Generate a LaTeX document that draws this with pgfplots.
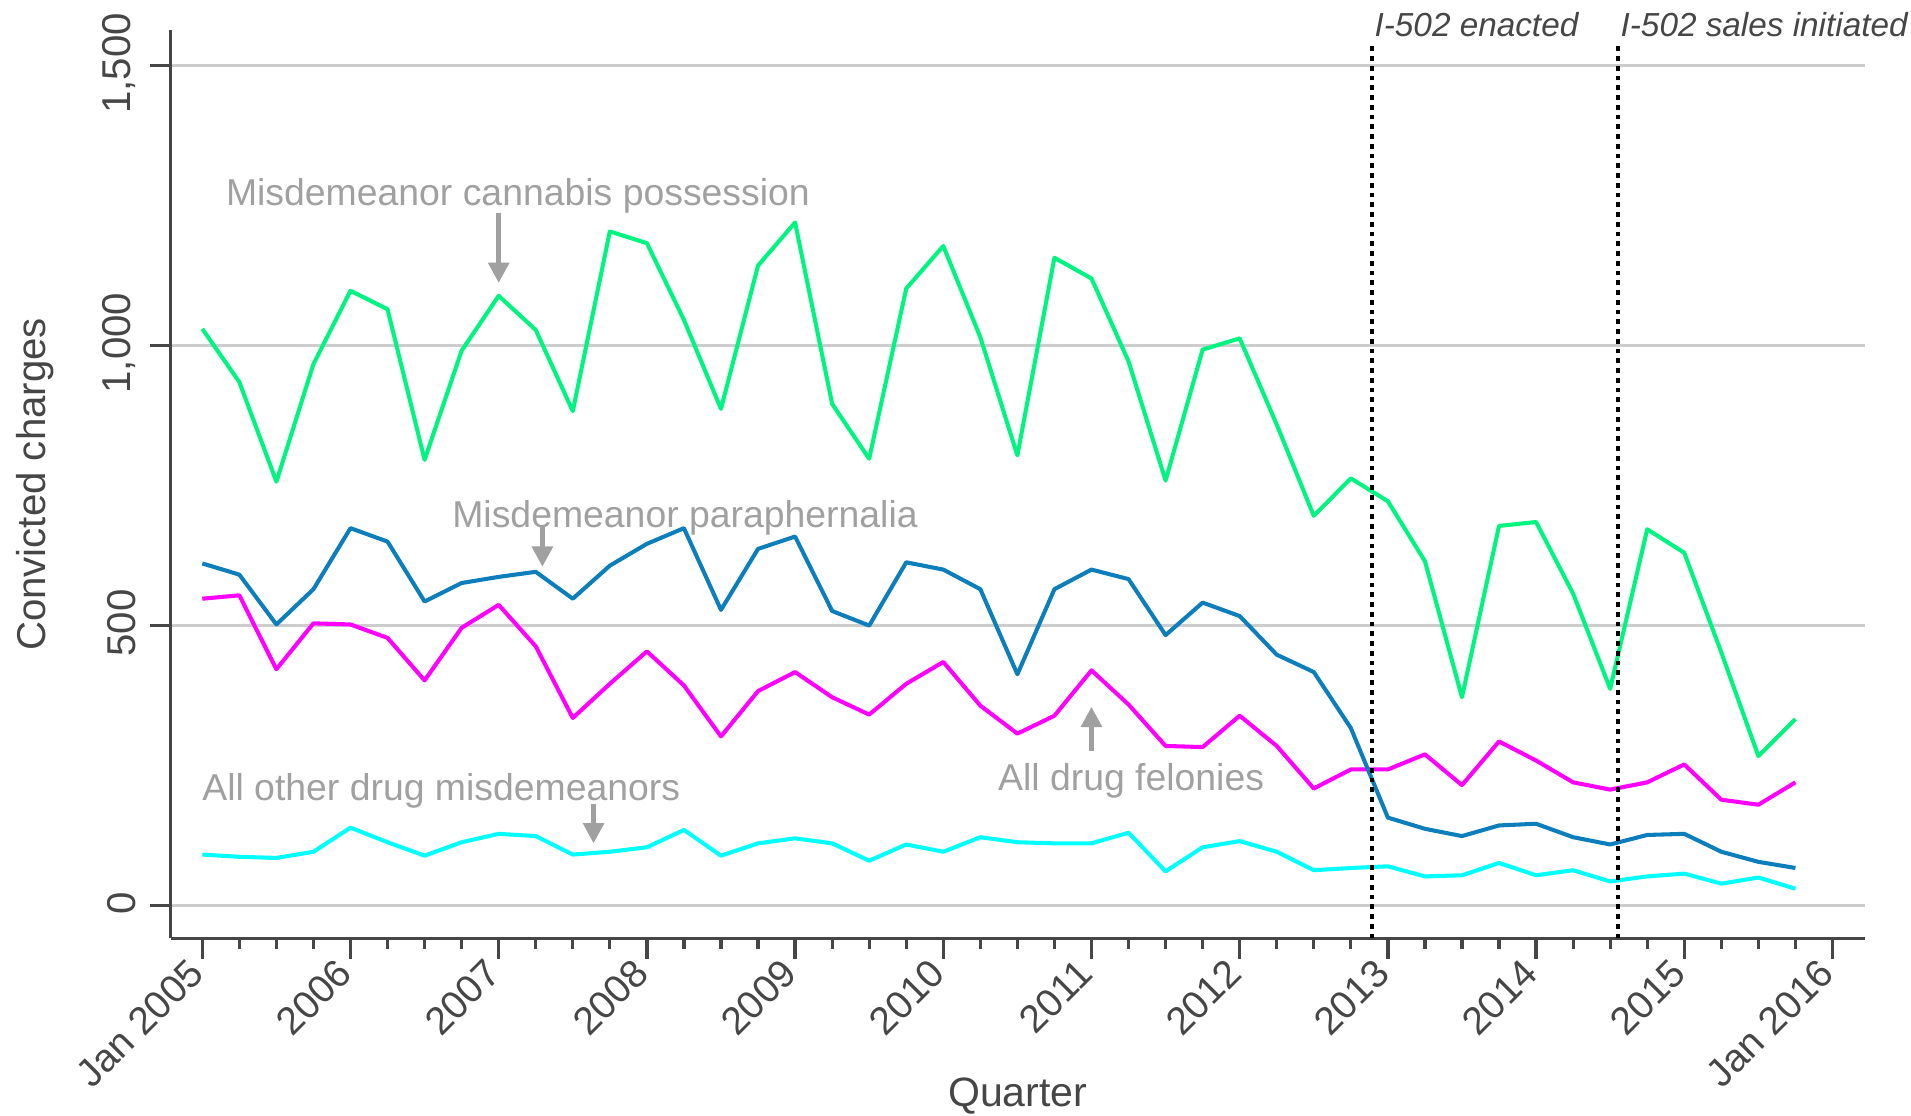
\documentclass[border=0pt]{standalone}
\usepackage{pgfplots}
\pgfplotsset{compat=1.18}
\usepackage{fontspec}
\setmainfont{Liberation Sans}
\usetikzlibrary{arrows.meta}
\definecolor{cgreen}{RGB}{0,245,128}
\definecolor{cblue}{RGB}{12,126,188}
\definecolor{cmag}{RGB}{255,0,255}
\definecolor{ccyan}{RGB}{0,255,255}
\definecolor{axgray}{RGB}{70,70,70}
\definecolor{anngray}{RGB}{160,160,160}
\definecolor{gridgray}{RGB}{205,205,205}

\pgfplotstableread{
i cann para fel oth
0 1030 611 548 91
1 935 591 554 87
2 757 502 422 85
3 967 565 504 96
4 1098 674 502 139
5 1065 650 478 113
6 796 543 402 89
7 991 576 496 113
8 1089 587 537 128
9 1028 596 463 124
10 883 548 335 91
11 1204 607 396 96
12 1183 646 454 104
13 1046 674 393 135
14 887 528 302 89
15 1143 637 383 111
16 1220 659 417 120
17 896 526 372 111
18 798 500 341 80
19 1102 613 396 109
20 1178 600 435 96
21 1015 565 357 122
22 804 413 307 113
23 1157 565 339 111
24 1120 600 420 111
25 972 583 359 130
26 759 483 285 61
27 993 541 283 104
28 1013 517 339 115
29 859 448 285 96
30 696 417 209 63
31 763 317 243 67
32 722 157 243 70
33 615 137 270 52
34 372 124 215 54
35 678 143 293 76
36 685 146 259 54
37 557 122 220 63
38 387 109 207 43
39 672 126 220 52
40 630 128 252 57
41 452 96 189 39
42 267 78 180 50
43 333 67 220 30
}\datatable

\begin{document}
\begin{tikzpicture}
\begin{axis}[
 scale only axis, width=417pt, height=223.5pt,
 xmin=-0.855, xmax=44.87, ymin=-58.8, ymax=1563,
 axis x line*=bottom, axis y line*=left,
 axis line style={axgray, line width=0.8pt, -},
 xtick={0,4,...,44},
 xticklabels={Jan 2005,2006,2007,2008,2009,2010,2011,2012,2013,2014,2015,Jan 2016},
 minor xtick={0,...,44},
 ytick={0,500,1000,1500},
 yticklabels={0,500,{1,000},{1,500}},
 tick align=outside,
 major tick length=5pt, minor tick length=2.5pt,
 tick style={axgray, line width=0.8pt},
 ymajorgrids, grid style={gridgray, line width=0.6pt},
 tick label style={font=\fontsize{9.9}{11}\selectfont, text=axgray},
 yticklabel style={rotate=90, anchor=south, xshift=0.6pt},
 xticklabel style={font=\fontsize{9.6}{11}\selectfont, rotate=45, anchor=north east, inner sep=1pt, xshift=-1.2pt, yshift=4.2pt},
 xlabel={Quarter}, ylabel={Convicted charges},
 label style={font=\fontsize{9.9}{11}\selectfont, text=axgray},
 xlabel style={font=\fontsize{10.1}{11}\selectfont, at={(axis description cs:0.5,-0.174)}, anchor=center},
 ylabel style={at={(axis description cs:-0.08,0.5)}, anchor=center},
 clip=false,
 every axis plot/.append style={line width=1pt, line join=round},
]
\addplot[cgreen] table[x=i,y=cann]{\datatable};
\addplot[cmag] table[x=i,y=fel]{\datatable};
\addplot[cblue] table[x=i,y=para]{\datatable};
\addplot[ccyan] table[x=i,y=oth]{\datatable};

\draw[black, line width=1pt, dash pattern=on 1.2pt off 1.2pt] (axis cs:31.58,-58.8) -- (axis cs:31.58,1535);
\draw[black, line width=1pt, dash pattern=on 1.2pt off 1.2pt] (axis cs:38.22,-58.8) -- (axis cs:38.22,1535);
\node[anchor=west, inner sep=0pt, font=\fontsize{8.2}{10}\selectfont\itshape, text=axgray] at (axis cs:31.62,1574) {I-502 enacted};
\node[anchor=west, inner sep=0pt, font=\fontsize{8.2}{10}\selectfont\itshape, text=axgray] at (axis cs:38.26,1574) {I-502 sales initiated};

\begin{scope}[every node/.style={font=\fontsize{9.2}{11}\selectfont, text=anngray, inner sep=0pt}]
\node at (axis cs:8.52,1267) {Misdemeanor cannabis possession};
\node at (axis cs:13.03,692) {Misdemeanor paraphernalia};
\node at (axis cs:25.07,222) {All drug felonies};
\node at (axis cs:6.45,204) {All other drug misdemeanors};
\end{scope}
\begin{scope}[anngray, line width=1.2pt, -{Triangle[length=5pt,width=5pt]}]
\draw (axis cs:8,1237) -- (axis cs:8,1112);
\draw (axis cs:9.18,677) -- (axis cs:9.18,605);
\draw (axis cs:24.0,276) -- (axis cs:24.0,355);
\draw (axis cs:10.56,181) -- (axis cs:10.56,111);
\end{scope}
\end{axis}
\pgfresetboundingbox
\path[use as bounding box] ([shift={(-42pt,-43.5pt)}]current axis.south west) rectangle ([shift={(11.4pt,7.5pt)}]current axis.north east);
\end{tikzpicture}
\end{document}
